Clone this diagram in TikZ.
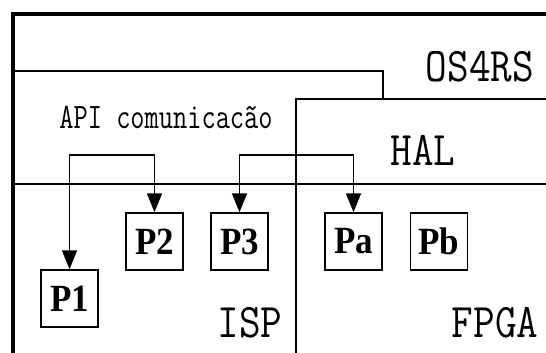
\documentclass[tikz,border=0pt]{standalone}
\usepackage{fontspec}
\setmainfont{Liberation Serif}
\usetikzlibrary{arrows.meta}
\tikzset{
  frame/.style={line width=3.5pt},
  layer/.style={line width=1.8pt},
  pbox/.style={draw, line width=1.5pt, minimum width=57pt, minimum height=57pt, inner sep=0pt,
               font=\fontsize{35}{35}\selectfont\bfseries},
  arr/.style={line width=1.8pt, {Triangle[width=15pt,length=19pt]}-{Triangle[width=15pt,length=19pt]}},
  lab/.style={inner sep=0pt, font=\ttfamily\fontsize{42}{42}\selectfont},
  smalllab/.style={inner sep=0pt, font=\ttfamily\fontsize{27.6}{27.6}\selectfont}
}
\begin{document}
\begin{tikzpicture}[x=1pt,y=-1pt]
\useasboundingbox[fill=white] (0,0) rectangle (546,353);
% outer frame
\draw[frame] (13,360) -- (13,14) -- (560,14);
% API layer box
\draw[layer] (13,71) -- (383,71) -- (383,99);
% HAL box
\draw[layer] (560,99) -- (296,99) -- (296,360);
% separation line
\draw[layer] (13,184) -- (560,184);
% labels
\node[lab] (os) at (480,66.5) {\scalebox{1}[1.15]{OS4RS}};
\node[smalllab] (api) at (166,117) {\scalebox{1}[1.3]{API comunicacão}};
\node[lab] (hal) at (423,150) {\scalebox{1}[1.15]{HAL}};
\node[lab] (isp) at (250,322.5) {\scalebox{1}[1.15]{ISP}};
\node[lab] (fpga) at (495,322.5) {\scalebox{1}[1.15]{FPGA}};
% process boxes
\node[pbox] (p1) at (69.5,298.5) {\scalebox{1}[1.1]{P1}};
\node[pbox] (p2) at (154.5,241.5) {\scalebox{1}[1.1]{P2}};
\node[pbox] (p3) at (239.5,241.5) {\scalebox{1}[1.1]{P3}};
\node[pbox] (pa) at (353.5,241.5) {\scalebox{1}[1.1]{Pa}};
\node[pbox] (pb) at (439,241.5) {\scalebox{1}[1.1]{Pb}};
% connectors
\draw[arr] (p1.north) -- ++(0,-114) -| (p2.north);
\draw[arr] (p3.north) -- ++(0,-57) -| (pa.north);
\end{tikzpicture}
\end{document}
